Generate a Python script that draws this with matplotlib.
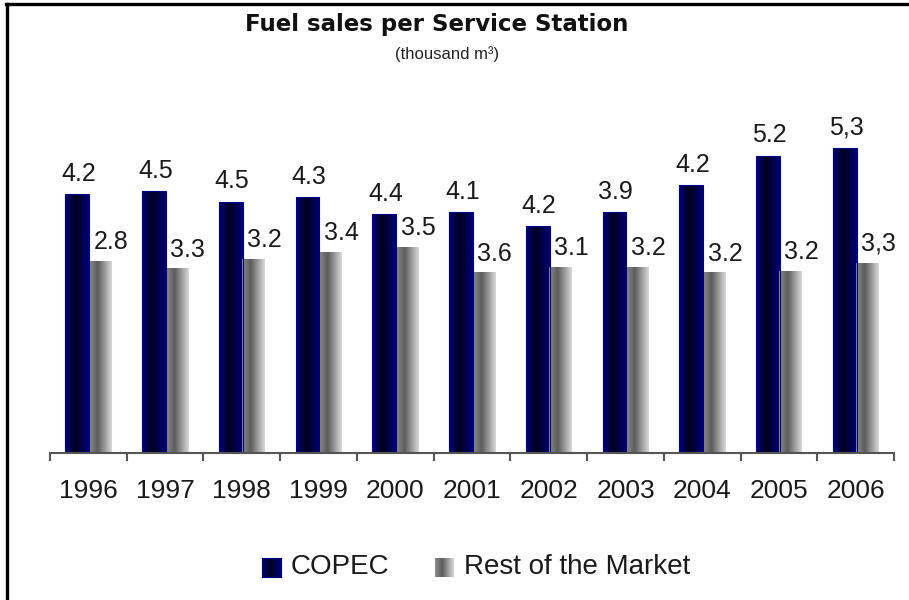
import numpy as np
import matplotlib
matplotlib.use("Agg")
import matplotlib.pyplot as plt
from matplotlib.colors import LinearSegmentedColormap
from matplotlib.lines import Line2D

# ---- data ----
years = ['1996', '1997', '1998', '1999', '2000', '2001', '2002', '2003', '2004', '2005', '2006']
copec_heights = [4.50, 4.56, 4.37, 4.45, 4.16, 4.19, 3.95, 4.19, 4.66, 5.17, 5.30]
copec_labels = ['4.2', '4.5', '4.5', '4.3', '4.4', '4.1', '4.2', '3.9', '4.2', '5.2', '5,3']
rest_heights = [3.34, 3.21, 3.37, 3.50, 3.58, 3.14, 3.24, 3.24, 3.14, 3.17, 3.31]
rest_labels = ['2.8', '3.3', '3.2', '3.4', '3.5', '3.6', '3.1', '3.2', '3.2', '3.2', '3,3']
series_names = ['COPEC', 'Rest of the Market']

FONT = ['Liberation Sans', 'DejaVu Sans']
plt.rcParams['font.family'] = FONT

W, H = 909, 600
fig = plt.figure(figsize=(W / 100, H / 100), dpi=100)

def fx(px):
    return px / W

def fy(py):
    return 1 - py / H

ax_left, ax_right, ax_top, ax_bottom = 50, 894, 100, 453
ax = fig.add_axes([fx(ax_left), fy(ax_bottom), fx(ax_right - ax_left), (ax_bottom - ax_top) / H])

cm_copec = LinearSegmentedColormap.from_list('copec', [(0, '#000078'), (0.45, '#00001e'), (1, '#00007a')])
cm_rest = LinearSegmentedColormap.from_list('rest', [(0, '#8c8c8c'), (0.38, '#5c5c5c'), (1, '#dadada')])

x = np.arange(len(years))
b1 = ax.bar(x - 0.143, copec_heights, width=0.31, color='#000060', edgecolor='#000090', linewidth=0.8, zorder=2)
b2 = ax.bar(x + 0.152, rest_heights, width=0.29, color='#888888', linewidth=0, zorder=2)

ax.set_xlim(-0.5, len(years) - 0.5)
ax.set_ylim(0, 6.14)

grad = np.linspace(0, 1, 256).reshape(1, -1)

def grad_fill(bars, cmap):
    for b in bars:
        x0, y0 = b.get_x(), b.get_y()
        w, h = b.get_width(), b.get_height()
        im = ax.imshow(grad, cmap=cmap, aspect='auto', extent=(x0, x0 + w, y0, y0 + h),
                       zorder=1.9, interpolation='bicubic')
        im.set_clip_path(b)
        b.set_facecolor('none')

grad_fill(b1, cm_copec)
grad_fill(b2, cm_rest)
ax.set_xlim(-0.5, len(years) - 0.5)
ax.set_ylim(0, 6.14)

for b, lab in zip(b1, copec_labels):
    ax.annotate(lab, (b.get_x() + b.get_width() / 2, b.get_height()), xytext=(1, 6),
                textcoords='offset points', ha='center', va='bottom', fontsize=18, color='#1a1a1a')
for b, lab in zip(b2, rest_labels):
    ax.annotate(lab, (b.get_x() + b.get_width() / 2, b.get_height()), xytext=(8, 5),
                textcoords='offset points', ha='center', va='bottom', fontsize=18, color='#1a1a1a')

for s in ['top', 'right', 'left']:
    ax.spines[s].set_visible(False)
ax.spines['bottom'].set_color('#555555')
ax.spines['bottom'].set_linewidth(1.5)
ax.set_yticks([])
ax.set_xticks(x)
ax.set_xticklabels(years, fontsize=19, color='#1a1a1a')
ax.tick_params(axis='x', which='major', length=0, pad=19)
ax.set_xticks(np.arange(-0.5, len(years)), minor=True)
ax.tick_params(axis='x', which='minor', length=6, width=1.5, color='#555555', direction='out')
ax.patch.set_alpha(0)

# ---- titles ----
fig.text(fx(437), fy(24), 'Fuel sales per Service Station', ha='center', va='center',
         fontsize=16.5, fontweight='bold', family=['DejaVu Sans'], color='#111111')
fig.text(fx(447), fy(54), '(thousand m³)', ha='center', va='center', fontsize=12, color='#222222')

# ---- legend (manual) ----
legend_items = [(262, series_names[0], cm_copec, '#000090'), (435, series_names[1], cm_rest, None)]
for px, name, cmap, ec in legend_items:
    lax = fig.add_axes([fx(px), fy(577), fx(19), 19 / H])
    lax.imshow(grad, cmap=cmap, aspect='auto', interpolation='bicubic')
    lax.set_xticks([]); lax.set_yticks([])
    for s in lax.spines.values():
        if ec:
            s.set_color(ec); s.set_linewidth(0.8)
        else:
            s.set_visible(False)
    fig.text(fx(px + 29), fy(567), name, ha='left', va='center', fontsize=20, color='#1a1a1a')

# ---- border ----
fig.add_artist(Line2D([fx(7), fx(7)], [0, fy(4)], color='black', lw=2.4, transform=fig.transFigure))
fig.add_artist(Line2D([fx(6), 1], [fy(4), fy(4)], color='black', lw=2.4, transform=fig.transFigure))

fig.savefig('out.png', dpi=100, facecolor='white')
